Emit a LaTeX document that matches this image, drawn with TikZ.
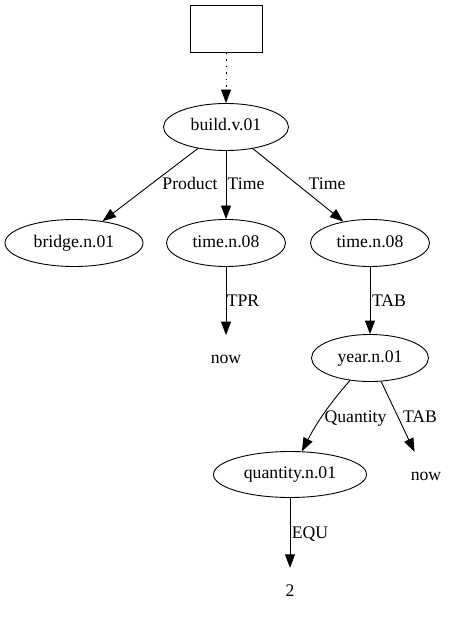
\documentclass[tikz,border=0pt]{standalone}
\usepackage{fontspec}
\setmainfont{Liberation Serif}
\usetikzlibrary{shapes.geometric, arrows.meta}
\begin{document}
\begin{tikzpicture}[x=1pt,y=-1pt,
  every node/.style={font=\fontsize{17.7}{20}\selectfont, text height=12pt, text depth=4pt, inner sep=0pt},
  ell/.style={draw, ellipse, line width=0.9pt, minimum height=47pt},
  plain/.style={minimum height=48pt, minimum width=40pt},
  lbl/.style={},
  arr/.style={draw, line width=0.9pt, -{Triangle[length=13.5pt,width=10pt]}},
]
\useasboundingbox (0,0) rectangle (468,620);
\node[draw, line width=0.9pt, minimum width=72pt, minimum height=47pt] (root) at (226,29) {};
\node[ell, minimum width=125pt] (build) at (226,127) {build.v.01};
\node[ell, minimum width=138pt] (bridge) at (74,243) {bridge.n.01};
\node[ell, minimum width=119pt] (timeA) at (226,243) {time.n.08};
\node[ell, minimum width=119pt] (timeB) at (370,243) {time.n.08};
\node[plain] (nowA) at (226,359.3) {now};
\node[ell, minimum width=117pt] (year) at (370,358) {year.n.01};
\node[ell, minimum width=153pt, minimum height=46pt] (quant) at (290,474.5) {quantity.n.01};
\node[plain] (nowB) at (426,476) {now};
\node[plain] (two) at (290,592) {2};

\draw[arr, dash pattern=on 1.5pt off 5pt] (root) -- (build);
\draw[arr] (build) -- (bridge);
\draw[arr] (build) -- (timeA);
\draw[arr] (build) -- (timeB);
\draw[arr] (timeA) -- (nowA);
\draw[arr] (timeB) -- (year);
\draw[arr] (year) .. controls (338,394) and (320,416) .. (quant);
\draw[arr] (year) -- (nowB);
\draw[arr] (quant) -- (two);

\node[lbl] (lProduct) at (190,186) {Product};
\node[lbl] (lTimeA) at (246,186) {Time};
\node[lbl] (lTimeB) at (327,186) {Time};
\node[lbl] (lTPR) at (243,302) {TPR};
\node[lbl] (lTABA) at (389,302) {TAB};
\node[lbl] (lQuant) at (355.5,418) {Quantity};
\node[lbl] (lTABB) at (420,418) {TAB};
\node[lbl] (lEQU) at (310,534) {EQU};
\end{tikzpicture}
\end{document}
